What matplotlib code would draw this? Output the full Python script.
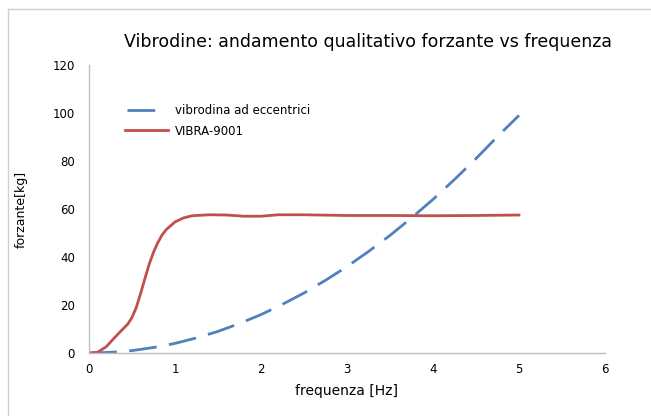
import matplotlib.pyplot as plt
from matplotlib.lines import Line2D

# values
freq_ecc = [0, 0.25, 0.5, 0.75, 1.0, 1.25, 1.5, 1.75, 2.0, 2.25, 2.5,
            2.75, 3.0, 3.25, 3.5, 3.75, 4.0, 4.25, 4.5, 4.75, 5.0]
force_ecc = [0, 0.3, 1, 2.3, 4, 6.3, 9, 12.3, 16, 20.3, 25,
             30.3, 36, 42.3, 49, 56.3, 64, 72.3, 81, 90.2, 99]

freq_vibra = [0, 0.1, 0.2, 0.3, 0.4, 0.45, 0.5, 0.55, 0.6, 0.65, 0.7, 0.75,
              0.8, 0.85, 0.9, 1.0, 1.1, 1.2, 1.4, 1.6, 1.8, 2.0, 2.2, 2.5,
              3.0, 3.5, 4.0, 4.5, 5.0]
force_vibra = [0, 0.3, 2.6, 6.5, 10.2, 12.0, 14.8, 19.0, 24.8, 31.0, 37.0, 42,
               46, 49.2, 51.5, 54.6, 56.3, 57.2, 57.6, 57.5, 57.0, 57.0, 57.6, 57.6,
               57.3, 57.3, 57.2, 57.3, 57.5]

x_ticks = [0, 1, 2, 3, 4, 5, 6]
y_ticks = [0, 20, 40, 60, 80, 100, 120]

BLUE = '#4F81BD'
RED = '#C0504D'
GRAY = '#BFBFBF'

fig = plt.figure(figsize=(6.51, 4.16), dpi=100)
ax = fig.add_axes([0.1367, 0.1514, 0.7926, 0.6923])

line_ecc, = ax.plot(freq_ecc, force_ecc, color=BLUE, lw=2.0,
                    label='vibrodina ad eccentrici')
line_ecc.set_dashes((10, 4.5))
ax.plot(freq_vibra, force_vibra, color=RED, lw=2.0, label='VIBRA-9001',
        solid_joinstyle='round')

ax.set_xlim(0, 6)
ax.set_ylim(0, 120)
ax.set_xticks(x_ticks)
ax.set_yticks(y_ticks)
ax.tick_params(length=0, labelsize=8.5, colors='#000000')
ax.tick_params(axis='x', pad=7)
ax.tick_params(axis='y', pad=10)

for side in ['top', 'right']:
    ax.spines[side].set_visible(False)
for side in ['left', 'bottom']:
    ax.spines[side].set_color(GRAY)
    ax.spines[side].set_linewidth(1.0)

ax.set_xlabel('frequenza [Hz]', fontsize=10, labelpad=6)
ax.set_ylabel('forzante[kg]', fontsize=9, labelpad=18)
fig.text(0.565, 0.898, 'Vibrodine: andamento qualitativo forzante vs frequenza',
         fontsize=12.5, ha='center', va='center')

leg = ax.legend(loc='upper left', bbox_to_anchor=(0.05, 0.90), frameon=False,
                fontsize=8.5, handlelength=3.6, handletextpad=0.6, labelspacing=0.6)
# legend shows one single dash for the dashed series
leg.get_lines()[0].set_linestyle((39.3, (10, 30)))

# outer chart border (only top and left visible in the crop)
fig.add_artist(Line2D([0.013, 1.0], [0.978, 0.978], color='#D0D0D0', lw=1.0))
fig.add_artist(Line2D([0.013, 0.013], [0.0, 0.978], color='#D0D0D0', lw=1.0))

fig.savefig('out.png', dpi=100)
